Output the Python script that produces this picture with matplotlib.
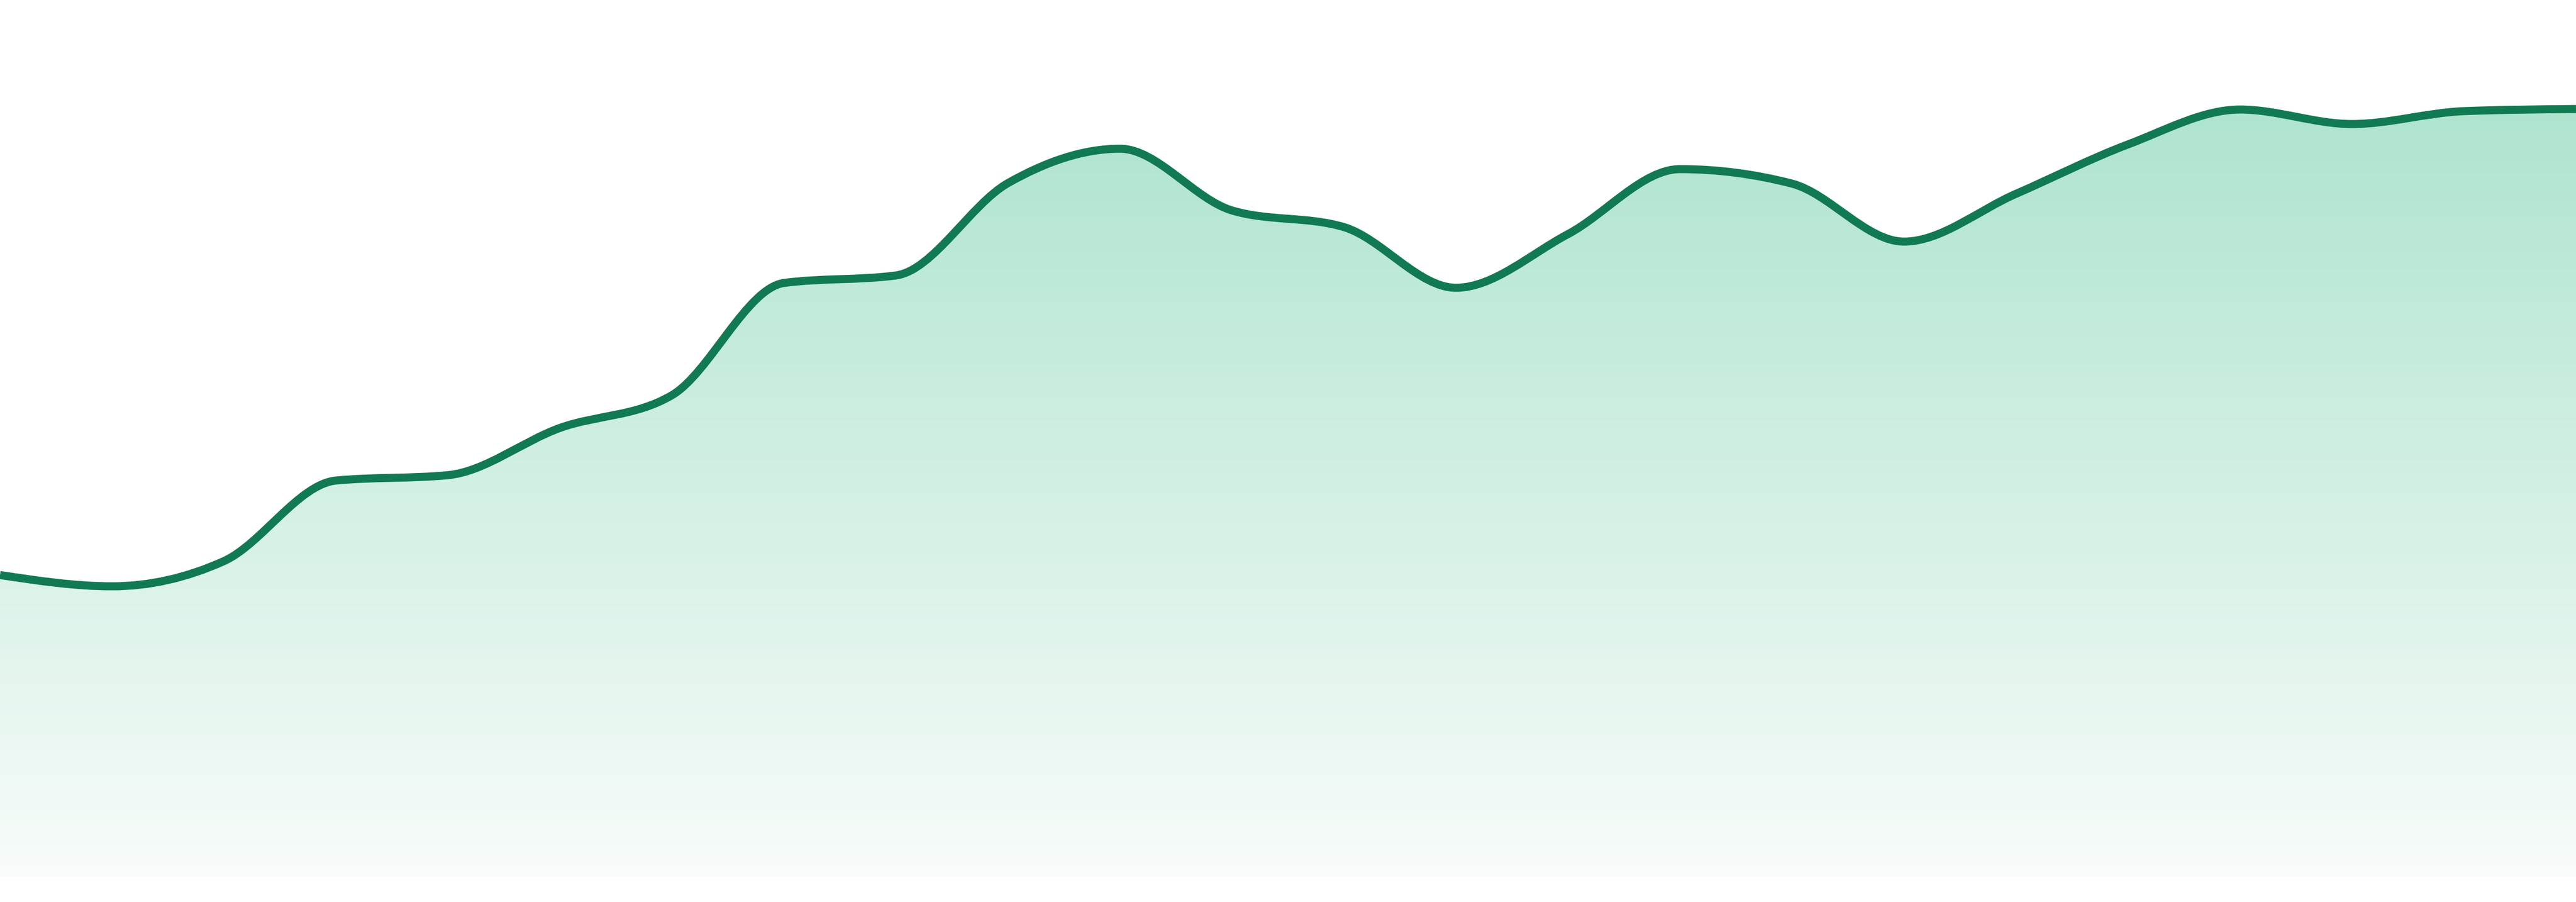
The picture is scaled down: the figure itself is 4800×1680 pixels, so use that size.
import numpy as np
import matplotlib
matplotlib.use("Agg")
import matplotlib.pyplot as plt
from matplotlib.path import Path
from matplotlib.patches import PathPatch

# ---- data ----
points = list(range(24))
values = [56.1, 54.0, 58.7, 73.7, 74.7, 83.5, 89.6, 110.5, 111.9, 129.1,
          135.5, 124.0, 120.9, 109.6, 119.6, 131.7, 129.0, 118.2, 127.1,
          136.3, 142.8, 140.1, 142.5, 142.9]

LINE_COLOR = "#117a52"
TOP_RGB = (174 / 255, 228 / 255, 206 / 255)
BOT_RGB = (248 / 255, 252 / 255, 250 / 255)


def monotone_tangents(x, y):
    x = np.asarray(x, float)
    y = np.asarray(y, float)
    n = len(x)
    t = np.zeros(n)
    for i in range(1, n - 1):
        h0 = x[i] - x[i - 1]
        h1 = x[i + 1] - x[i]
        s0 = (y[i] - y[i - 1]) / h0
        s1 = (y[i + 1] - y[i]) / h1
        p = (s0 * h1 + s1 * h0) / (h0 + h1)
        t[i] = (np.sign(s0) + np.sign(s1)) * min(abs(s0), abs(s1), 0.5 * abs(p))
    h = x[1] - x[0]
    t[0] = (3 * (y[1] - y[0]) / h - t[1]) / 2
    h = x[-1] - x[-2]
    t[-1] = (3 * (y[-1] - y[-2]) / h - t[-2]) / 2
    return t


def monotone_path_vertices(x, y):
    t = monotone_tangents(x, y)
    verts = [(x[0], y[0])]
    codes = [Path.MOVETO]
    for i in range(len(x) - 1):
        dx = (x[i + 1] - x[i]) / 3.0
        verts += [(x[i] + dx, y[i] + dx * t[i]),
                  (x[i + 1] - dx, y[i + 1] - dx * t[i + 1]),
                  (x[i + 1], y[i + 1])]
        codes += [Path.CURVE4] * 3
    return verts, codes


fig = plt.figure(figsize=(16, 5.6), dpi=300)
fig.patch.set_facecolor("white")
ax = fig.add_axes([0, 0, 1, 1])
ax.set_xlim(points[0], points[-1])
ax.set_ylim(-4.8, 163.2)
ax.axis("off")

verts, codes = monotone_path_vertices(points, values)

# area path (curve + baseline)
a_verts = verts + [(points[-1], 0), (points[0], 0), verts[0]]
a_codes = codes + [Path.LINETO, Path.LINETO, Path.CLOSEPOLY]
area = PathPatch(Path(a_verts, a_codes), facecolor="none", edgecolor="none")
ax.add_patch(area)

# vertical gradient clipped to the area
top_v = max(values)
nrows = 512
frac = np.linspace(0, 1, nrows)[:, None]
grad = np.zeros((nrows, 2, 3))
for c in range(3):
    grad[:, :, c] = TOP_RGB[c] + (BOT_RGB[c] - TOP_RGB[c]) * frac
im = ax.imshow(grad, extent=[points[0], points[-1], 0, top_v], origin="upper",
               aspect="auto", interpolation="bilinear", zorder=1)
im.set_clip_path(area)

# line
line = PathPatch(Path(verts, codes), facecolor="none", edgecolor=LINE_COLOR,
                 linewidth=3.6, capstyle="butt", joinstyle="round", zorder=3)
ax.add_patch(line)

fig.savefig("out.png", dpi=300, facecolor="white")
